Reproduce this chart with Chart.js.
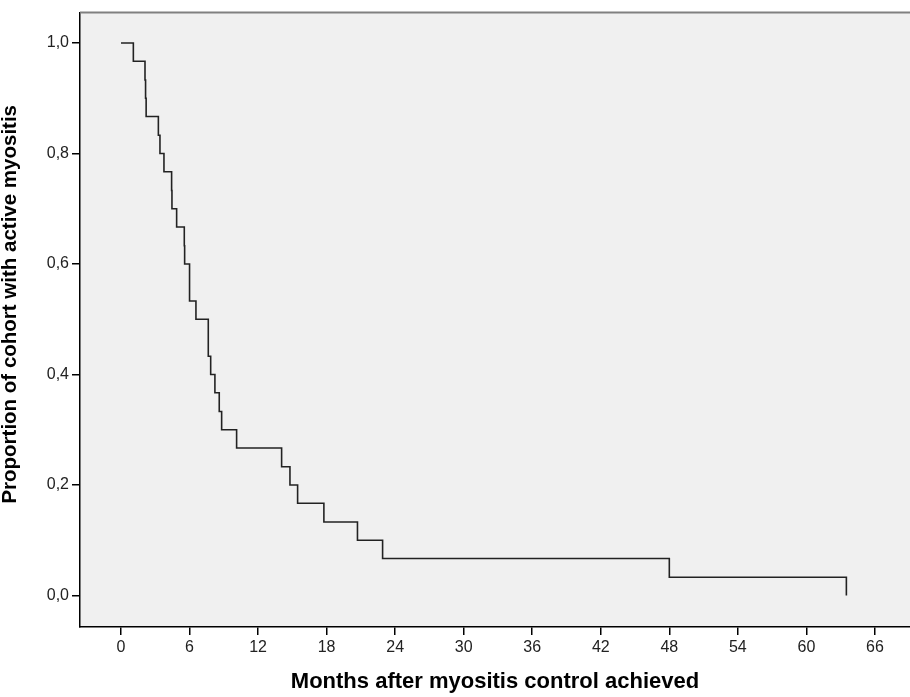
<!DOCTYPE html>
<html>
<head>
<meta charset="utf-8">
<script src="https://cdn.jsdelivr.net/npm/chart.js@4.4.1/dist/chart.umd.min.js"></script>
<style>
html,body{margin:0;padding:0;background:#ffffff;}
#wrap{width:910px;height:697px;position:relative;}
</style>
</head>
<body>
<div id="wrap"><canvas id="c"></canvas></div>
<script>
// Kaplan-Meier step data (event times in months, proportion after each event)
const months = [0, 1.08, 2.10, 2.15, 2.20, 3.27, 3.41, 3.76, 4.43, 4.46, 4.87, 5.54, 5.57, 6.00, 6.56, 7.64, 7.85, 8.22, 8.60, 8.81, 10.12, 14.06, 14.79, 15.46, 17.76, 20.70, 22.90, 48.00, 63.50];
const proportion = [1.000, 0.967, 0.933, 0.900, 0.867, 0.833, 0.800, 0.767, 0.733, 0.700, 0.667, 0.633, 0.600, 0.533, 0.500, 0.433, 0.400, 0.367, 0.333, 0.300, 0.267, 0.233, 0.200, 0.167, 0.133, 0.100, 0.067, 0.033, 0.000];
const xTicks = [0, 6, 12, 18, 24, 30, 36, 42, 48, 54, 60, 66];
const yTicks = [0, 0.2, 0.4, 0.6, 0.8, 1.0];
const yTickLabels = ['0,0', '0,2', '0,4', '0,6', '0,8', '1,0'];
const xTitle = 'Months after myositis control achieved';
const yTitle = 'Proportion of cohort with active myositis';

const points = months.map((m, i) => ({x: m, y: proportion[i]}));
const FONT = "'Liberation Sans', Arial, Helvetica, sans-serif";

const frame = {
  id: 'frame',
  beforeDraw(chart) {
    const {ctx, chartArea: a} = chart;
    ctx.save();
    ctx.fillStyle = '#f0f0f0';
    ctx.fillRect(a.left, a.top, a.right - a.left, a.bottom - a.top);
    ctx.restore();
  },
  afterDraw(chart) {
    const {ctx, chartArea: a} = chart;
    ctx.save();
    ctx.strokeStyle = '#808080';
    ctx.lineWidth = 2;
    ctx.beginPath();
    ctx.moveTo(a.left, a.top);
    ctx.lineTo(a.right, a.top);
    ctx.stroke();
    ctx.restore();
  },
  afterLayout(chart) {
    const s = chart.scales.y;
    if (s && !s._titlePatched) {
      const orig = s.drawTitle;
      s.drawTitle = function() {
        const t = this.top, b = this.bottom;
        this.top = t - 15.5; this.bottom = b - 15.5;
        orig.call(this);
        this.top = t; this.bottom = b;
      };
      s._titlePatched = true;
    }
  }
};

new Chart(document.getElementById('c'), {
  type: 'line',
  data: {
    datasets: [{
      data: points,
      stepped: 'before',
      borderColor: '#222222',
      borderWidth: 1.6,
      pointRadius: 0,
      fill: false,
      tension: 0
    }]
  },
  options: {
    responsive: true,
    maintainAspectRatio: false,
    animation: false,
    layout: {padding: {top: 11, right: 0, bottom: 0, left: 0}},
    plugins: {legend: {display: false}, tooltip: {enabled: false}},
    scales: {
      x: {
        type: 'linear',
        min: -3.59,
        max: 69.07,
        afterFit(scale) { scale.height = 70; },
        afterBuildTicks(scale) { scale.ticks = xTicks.map(v => ({value: v})); },
        ticks: {
          color: '#222222',
          padding: 3,
          maxRotation: 0,
          autoSkip: false,
          font: {family: FONT, size: 16},
          callback: (v) => String(v)
        },
        grid: {display: true, drawOnChartArea: false, drawTicks: true, tickLength: 8, color: '#000000', lineWidth: 1.5},
        border: {display: true, color: '#000000', width: 1.5},
        title: {
          display: true,
          text: xTitle,
          color: '#000000',
          font: {family: FONT, size: 22, weight: 'bold', lineHeight: 1},
          padding: {top: 0, bottom: 4}
        }
      },
      y: {
        type: 'linear',
        min: -0.057,
        max: 1.055,
        afterFit(scale) { scale.width = 80; },
        afterBuildTicks(scale) { scale.ticks = yTicks.map(v => ({value: v})); },
        ticks: {
          color: '#222222',
          padding: 3,
          autoSkip: false,
          font: {family: FONT, size: 16},
          callback: (v, i) => yTickLabels[i]
        },
        grid: {display: true, drawOnChartArea: false, drawTicks: true, tickLength: 8, color: '#000000', lineWidth: 1.5},
        border: {display: true, color: '#000000', width: 1.5},
        title: {
          display: true,
          text: yTitle,
          color: '#000000',
          font: {family: FONT, size: 20.5, weight: 'bold', lineHeight: 1},
          padding: {top: 0.5, bottom: 0}
        }
      }
    }
  },
  plugins: [frame]
});
</script>
</body>
</html>
